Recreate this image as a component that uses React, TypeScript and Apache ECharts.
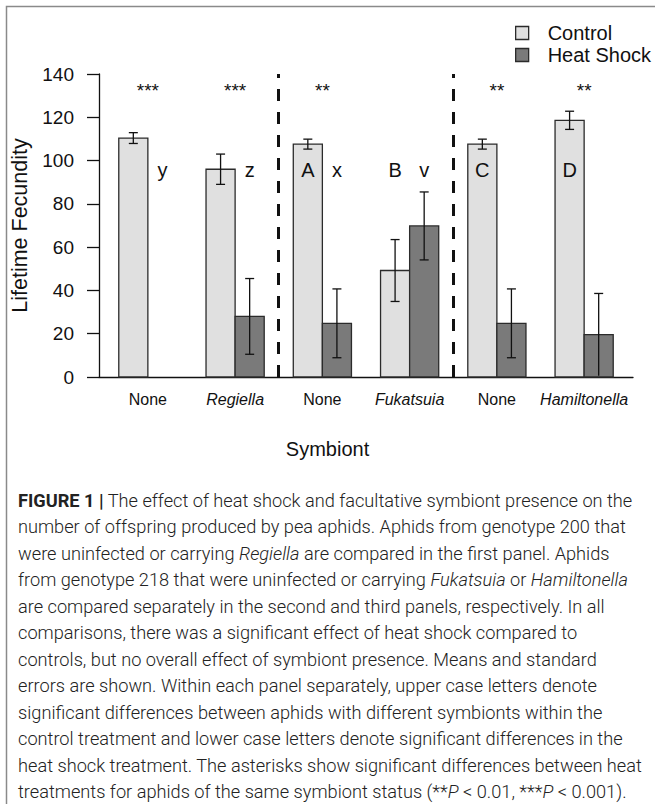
import React, { useEffect, useRef } from 'react';
import * as echarts from 'echarts';

// ---- data ----
const categories = ['None', 'Regiella', 'None', 'Fukatsuia', 'None', 'Hamiltonella'];
const italicCategory = [false, true, false, true, false, true];
const controlMean = [110.4, 96.0, 107.6, 49.2, 107.6, 118.6];
const controlSE = [2.5, 7.0, 2.3, 14.3, 2.3, 4.2];
const heatMean = [0, 28.0, 24.8, 69.8, 24.8, 19.6];
const heatSE = [0, 17.5, 15.9, 15.7, 15.9, 19.0];
const stars = ['***', '***', '**', '', '**', '**'];
const controlLetters = ['', '', 'A', 'B', 'C', 'D'];
const heatLetters = ['y', 'z', 'x', 'v', '', ''];
const yMin = 0;
const yMax = 140;
const yInterval = 20;
const panelLastGroup = [1, 3]; // dashed dividers after these groups
const STAR_LEVEL = 132.5;
const LETTER_LEVEL = 95.6;

const captionLines = [
  '{b|FIGURE 1 |} The effect of heat shock and facultative symbiont presence on the',
  'number of offspring produced by pea aphids. Aphids from genotype 200 that',
  'were uninfected or carrying {i|Regiella} are compared in the first panel. Aphids',
  'from genotype 218 that were uninfected or carrying {i|Fukatsuia} or {i|Hamiltonella}',
  'are compared separately in the second and third panels, respectively. In all',
  'comparisons, there was a significant effect of heat shock compared to',
  'controls, but no overall effect of symbiont presence. Means and standard',
  'errors are shown. Within each panel separately, upper case letters denote',
  'significant differences between aphids with different symbionts within the',
  'control treatment and lower case letters denote significant differences in the',
  'heat shock treatment. The asterisks show significant differences between heat',
  'treatments for aphids of the same symbiont status (**{i|P} < 0.01, ***{i|P} < 0.001).',
];

// group layout in bar units (R barplot, beside, space = c(0,1))
const controlX = (i: number) => 1.5 + 3 * i;
const heatX = (i: number) => 2.5 + 3 * i;
const groupX = (i: number) => 2 + 3 * i;

const FONT = 'Liberation Sans, Arial, Helvetica, sans-serif';
const CAP_FONT = 'Roboto, Liberation Sans, sans-serif';
const CAP_SIZE = 18.2;
const CONTROL_COLOR = '#e0e0e0';
const HEAT_COLOR = '#7a7a7a';
const EDGE = '#2b2b2b';

function barRender(color: string) {
  return (params: any, api: any) => {
    const x = api.value(0);
    const m = api.value(1);
    const se = api.value(2);
    const children: any[] = [];
    if (m > 0) {
      const p0 = api.coord([x - 0.5, m]);
      const p1 = api.coord([x + 0.5, 0]);
      children.push({
        type: 'rect',
        shape: { x: p0[0], y: p0[1], width: p1[0] - p0[0], height: p1[1] - p0[1] },
        style: { fill: color, stroke: EDGE, lineWidth: 1.3 },
      });
    }
    if (se > 0) {
      const top = api.coord([x, m + se]);
      const bot = api.coord([x, Math.max(m - se, 0)]);
      const ls = { stroke: '#111', lineWidth: 1.3 };
      children.push({ type: 'line', shape: { x1: top[0], y1: top[1], x2: bot[0], y2: bot[1] }, style: ls });
      children.push({ type: 'line', shape: { x1: top[0] - 4.5, y1: top[1], x2: top[0] + 4.5, y2: top[1] }, style: ls });
      if (m - se > 0.8) {
        children.push({ type: 'line', shape: { x1: bot[0] - 4.5, y1: bot[1], x2: bot[0] + 4.5, y2: bot[1] }, style: ls });
      }
    }
    return { type: 'group', children };
  };
}

function textRender(fontSize: number) {
  return (params: any, api: any) => {
    const p = api.coord([api.value(0), api.value(1)]);
    return {
      type: 'text',
      x: p[0],
      y: p[1],
      style: {
        text: String(api.value(2)),
        fontSize,
        fontFamily: FONT,
        fill: '#111',
        align: 'center',
        verticalAlign: 'middle',
      },
    };
  };
}

export default function App() {
  const ref = useRef<HTMLDivElement>(null);
  useEffect(() => {
    if (!ref.current) return;
    const chart = echarts.init(ref.current, null, { renderer: 'svg' });

    const annotations: any[] = [];
    categories.forEach((_, i) => {
      if (controlLetters[i]) annotations.push([controlX(i), LETTER_LEVEL, controlLetters[i]]);
      if (heatLetters[i]) annotations.push([heatX(i), LETTER_LEVEL, heatLetters[i]]);
    });
    const starData = stars.map((s, i) => [groupX(i), STAR_LEVEL, s]).filter((d) => d[2] !== '');

    const capRich = {
      b: { fontFamily: CAP_FONT, fontSize: CAP_SIZE, fontWeight: 'bold', fill: '#222' },
      i: { fontFamily: CAP_FONT, fontSize: CAP_SIZE, fontWeight: 300, fontStyle: 'italic', fill: '#222' },
    };

    const option: any = {
      animation: false,
      backgroundColor: '#fff',
      textStyle: { fontFamily: FONT },
      grid: { left: 99, right: 22, top: 74, bottom: 427 },
      legend: {
        orient: 'vertical',
        left: 510,
        top: 18,
        itemWidth: 13,
        itemHeight: 13,
        itemGap: 2,
        textStyle: { fontSize: 20, color: '#111', fontFamily: FONT, lineHeight: 20, padding: [0, 0, 0, 14] },
        data: [
          { name: 'Control', icon: 'rect', itemStyle: { color: CONTROL_COLOR, borderColor: EDGE, borderWidth: 1.3 } },
          { name: 'Heat Shock', icon: 'rect', itemStyle: { color: HEAT_COLOR, borderColor: EDGE, borderWidth: 1.3 } },
        ],
      },
      xAxis: {
        type: 'value',
        min: 0.32,
        max: 18.68,
        axisLine: { show: true, lineStyle: { color: '#111', width: 1.3 } },
        axisTick: { show: false },
        splitLine: { show: false },
        axisLabel: {
          customValues: categories.map((_, i) => groupX(i)),
          margin: 14,
          fontSize: 16,
          color: '#111',
          fontFamily: FONT,
          formatter: (v: number) => {
            const i = Math.round((v - 2) / 3);
            return italicCategory[i] ? `{i|${categories[i]}}` : `{n|${categories[i]}}`;
          },
          rich: {
            i: { fontStyle: 'italic', fontSize: 16, color: '#111', fontFamily: FONT },
            n: { fontSize: 16, color: '#111', fontFamily: FONT },
          },
        },
      },
      yAxis: {
        type: 'value',
        min: yMin,
        max: yMax,
        interval: yInterval,
        name: 'Lifetime Fecundity',
        nameLocation: 'middle',
        nameGap: 56,
        nameTextStyle: { fontSize: 21.5, color: '#111', fontFamily: FONT },
        axisLine: { show: true, lineStyle: { color: '#111', width: 1.3 } },
        axisTick: { show: true, length: 12, lineStyle: { color: '#111', width: 1.3 } },
        axisLabel: { fontSize: 19, color: '#111', margin: 25, fontFamily: FONT },
        splitLine: { show: false },
      },
      series: [
        {
          name: 'Control',
          type: 'custom',
          renderItem: barRender(CONTROL_COLOR),
          itemStyle: { color: CONTROL_COLOR },
          data: controlMean.map((m, i) => [controlX(i), m, controlSE[i]]),
          markLine: {
            silent: true,
            symbol: 'none',
            label: { show: false },
            lineStyle: { color: '#111', width: 3, type: [12, 11] },
            data: panelLastGroup.map((g) => ({ xAxis: 3 * (g + 1) + 0.5 })),
          },
          z: 2,
        },
        {
          name: 'Heat Shock',
          type: 'custom',
          renderItem: barRender(HEAT_COLOR),
          itemStyle: { color: HEAT_COLOR },
          data: heatMean.map((m, i) => [heatX(i), m, heatSE[i]]),
          z: 2,
        },
        {
          name: 'letters',
          type: 'custom',
          renderItem: textRender(20),
          data: annotations,
          z: 3,
        },
        {
          name: 'stars',
          type: 'custom',
          renderItem: textRender(19),
          data: starData,
          z: 3,
        },
      ],
      graphic: [
        {
          type: 'rect',
          shape: { x: 6.5, y: 6.5, width: 700, height: 900 },
          style: { fill: 'none', stroke: '#8a8a8a', lineWidth: 1.5 },
          silent: true,
        },
        {
          type: 'text',
          x: 327.5,
          y: 449,
          style: { text: 'Symbiont', fontSize: 20, fontFamily: FONT, fill: '#111', align: 'center', verticalAlign: 'middle' },
        },
        ...captionLines.map((line, k) => ({
          type: 'text',
          x: 18,
          y: 500 + k * 26.5,
          style: {
            text: line,
            fontSize: CAP_SIZE,
            fontFamily: CAP_FONT,
            fontWeight: 300,
            fill: '#222',
            verticalAlign: 'middle',
            rich: capRich,
          },
        })),
      ],
    };
    chart.setOption(option);
    return () => chart.dispose();
  }, []);
  return (
    <div
      ref={ref}
      style={{ position: 'fixed', left: 0, top: 0, width: 655, height: 804, background: '#fff' }}
    />
  );
}
